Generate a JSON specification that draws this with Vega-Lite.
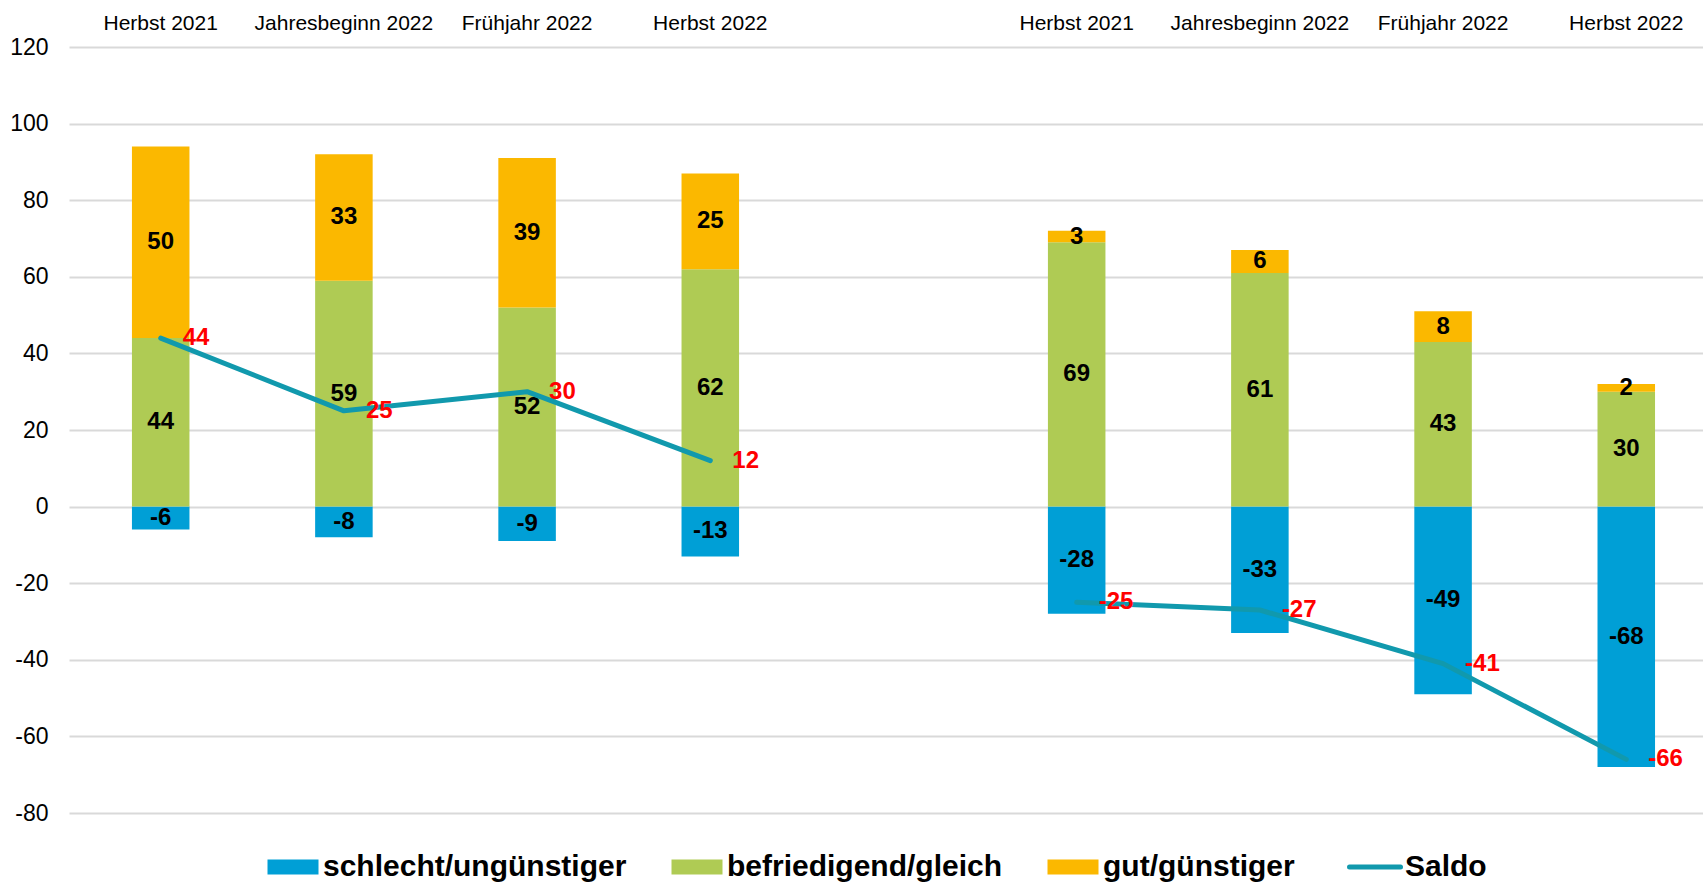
{
  "$schema": "https://vega.github.io/schema/vega-lite/v6.json",
  "autosize": {"type": "none"},
  "padding": {"left": 69, "top": 47, "right": 0, "bottom": 69},
  "width": 1634,
  "height": 766,
  "config": {
    "view": {"stroke": null},
    "font": "Liberation Sans",
    "axis": {"labelColor": "#000000", "labelFont": "Liberation Sans"}
  },
  "datasets": {
    "bars": [
      {"slot": "1 Herbst 2021", "cat": "schlecht/ungünstiger", "v": -6, "ord": 0},
      {"slot": "1 Herbst 2021", "cat": "befriedigend/gleich", "v": 44, "ord": 1},
      {"slot": "1 Herbst 2021", "cat": "gut/günstiger", "v": 50, "ord": 2},
      {"slot": "2 Jahresbeginn 2022", "cat": "schlecht/ungünstiger", "v": -8, "ord": 0},
      {"slot": "2 Jahresbeginn 2022", "cat": "befriedigend/gleich", "v": 59, "ord": 1},
      {"slot": "2 Jahresbeginn 2022", "cat": "gut/günstiger", "v": 33, "ord": 2},
      {"slot": "3 Frühjahr 2022", "cat": "schlecht/ungünstiger", "v": -9, "ord": 0},
      {"slot": "3 Frühjahr 2022", "cat": "befriedigend/gleich", "v": 52, "ord": 1},
      {"slot": "3 Frühjahr 2022", "cat": "gut/günstiger", "v": 39, "ord": 2},
      {"slot": "4 Herbst 2022", "cat": "schlecht/ungünstiger", "v": -13, "ord": 0},
      {"slot": "4 Herbst 2022", "cat": "befriedigend/gleich", "v": 62, "ord": 1},
      {"slot": "4 Herbst 2022", "cat": "gut/günstiger", "v": 25, "ord": 2},
      {"slot": "6 Herbst 2021", "cat": "schlecht/ungünstiger", "v": -28, "ord": 0},
      {"slot": "6 Herbst 2021", "cat": "befriedigend/gleich", "v": 69, "ord": 1},
      {"slot": "6 Herbst 2021", "cat": "gut/günstiger", "v": 3, "ord": 2},
      {"slot": "7 Jahresbeginn 2022", "cat": "schlecht/ungünstiger", "v": -33, "ord": 0},
      {"slot": "7 Jahresbeginn 2022", "cat": "befriedigend/gleich", "v": 61, "ord": 1},
      {"slot": "7 Jahresbeginn 2022", "cat": "gut/günstiger", "v": 6, "ord": 2},
      {"slot": "8 Frühjahr 2022", "cat": "schlecht/ungünstiger", "v": -49, "ord": 0},
      {"slot": "8 Frühjahr 2022", "cat": "befriedigend/gleich", "v": 43, "ord": 1},
      {"slot": "8 Frühjahr 2022", "cat": "gut/günstiger", "v": 8, "ord": 2},
      {"slot": "9 Herbst 2022", "cat": "schlecht/ungünstiger", "v": -68, "ord": 0},
      {"slot": "9 Herbst 2022", "cat": "befriedigend/gleich", "v": 30, "ord": 1},
      {"slot": "9 Herbst 2022", "cat": "gut/günstiger", "v": 2, "ord": 2}
    ],
    "saldo": [
      {"slot": "1 Herbst 2021", "grp": "A", "cat": "Saldo", "saldo": 44},
      {"slot": "2 Jahresbeginn 2022", "grp": "A", "cat": "Saldo", "saldo": 25},
      {"slot": "3 Frühjahr 2022", "grp": "A", "cat": "Saldo", "saldo": 30},
      {"slot": "4 Herbst 2022", "grp": "A", "cat": "Saldo", "saldo": 12},
      {"slot": "6 Herbst 2021", "grp": "B", "cat": "Saldo", "saldo": -25},
      {"slot": "7 Jahresbeginn 2022", "grp": "B", "cat": "Saldo", "saldo": -27},
      {"slot": "8 Frühjahr 2022", "grp": "B", "cat": "Saldo", "saldo": -41},
      {"slot": "9 Herbst 2022", "grp": "B", "cat": "Saldo", "saldo": -66}
    ]
  },
  "resolve": {"scale": {"color": "shared"}},
  "layer": [
    {
      "data": {"name": "bars"},
      "transform": [
        {"stack": "v", "groupby": ["slot"], "sort": [{"field": "ord", "order": "ascending"}], "as": ["v0", "v1"]}
      ],
      "mark": {"type": "bar"},
      "encoding": {
        "x": {
          "field": "slot", "type": "nominal",
          "scale": {
            "type": "band",
            "domain": ["1 Herbst 2021", "2 Jahresbeginn 2022", "3 Frühjahr 2022", "4 Herbst 2022", "5 ", "6 Herbst 2021", "7 Jahresbeginn 2022", "8 Frühjahr 2022", "9 Herbst 2022"],
            "paddingInner": 0.686, "paddingOuter": 0.3027, "align": 0.5675
          },
          "axis": {
            "orient": "top", "title": null, "labelExpr": "slice(datum.value, 2)",
            "labelAngle": 0, "labelFontSize": 21, "labelBaseline": "alphabetic",
            "labelPadding": 18, "ticks": false, "tickSize": 0, "domain": false, "grid": false
          }
        },
        "y": {
          "field": "v0", "type": "quantitative",
          "scale": {"domain": [-80, 120], "nice": false, "zero": false},
          "axis": {
            "title": null, "values": [-80, -60, -40, -20, 0, 20, 40, 60, 80, 100, 120],
            "labelExpr": "datum.value + ''",
            "labelFontSize": 23, "labelPadding": 21, "ticks": false, "tickSize": 0,
            "domain": false, "grid": true, "gridColor": "#d9d9d9", "gridWidth": 2
          }
        },
        "y2": {"field": "v1"},
        "color": {
          "field": "cat", "type": "nominal",
          "scale": {
            "domain": ["schlecht/ungünstiger", "befriedigend/gleich", "gut/günstiger", "Saldo"],
            "range": ["#009fd6", "#afcb54", "#fbb800", "#1199ad"]
          },
          "legend": {
            "title": null, "orient": "none", "direction": "horizontal",
            "legendX": 209, "legendY": 805, "padding": 0,
            "labelFontSize": 30, "labelFontWeight": "bold", "labelColor": "#000000",
            "labelLimit": 0, "labelOffset": 15, "columnPadding": 44, "symbolSize": 2601,
            "symbolType": "M-1,-0.294H1V0.294H-1Z", "symbolStrokeWidth": 0,
            "encode": {
              "symbols": {
                "update": {
                  "shape": {"signal": "datum.value === 'Saldo' ? 'M-1,0H1' : 'M-1,-0.294H1V0.294H-1Z'"},
                  "fill": {"signal": "datum.value === 'Saldo' ? 'transparent' : scale('color', datum.value)"},
                  "stroke": {"signal": "datum.value === 'Saldo' ? scale('color', datum.value) : 'transparent'"},
                  "strokeWidth": {"signal": "datum.value === 'Saldo' ? 5 : 0"},
                  "strokeCap": {"value": "round"},
                  "opacity": {"value": 1}
                }
              }
            }
          }
        }
      }
    },
    {
      "data": {"name": "bars"},
      "transform": [
        {"stack": "v", "groupby": ["slot"], "sort": [{"field": "ord", "order": "ascending"}], "as": ["v0", "v1"]},
        {"calculate": "(datum.v0 + datum.v1) / 2", "as": "mid"}
      ],
      "mark": {"type": "text", "fontSize": 24, "fontWeight": "bold", "color": "#000000", "baseline": "middle", "align": "center"},
      "encoding": {
        "x": {"field": "slot", "type": "nominal"},
        "y": {"field": "mid", "type": "quantitative"},
        "text": {"field": "v", "type": "nominal"}
      }
    },
    {
      "data": {"name": "saldo"},
      "mark": {"type": "line", "strokeWidth": 5, "strokeCap": "round", "strokeJoin": "round"},
      "encoding": {
        "x": {"field": "slot", "type": "nominal"},
        "y": {"field": "saldo", "type": "quantitative"},
        "detail": {"field": "grp"},
        "color": {"field": "cat", "type": "nominal"}
      }
    },
    {
      "data": {"name": "saldo"},
      "mark": {"type": "text", "fontSize": 24, "fontWeight": "bold", "color": "#ff0000", "baseline": "middle", "align": "left", "dx": 22},
      "encoding": {
        "x": {"field": "slot", "type": "nominal"},
        "y": {"field": "saldo", "type": "quantitative"},
        "text": {"field": "saldo", "type": "nominal"}
      }
    }
  ]
}
